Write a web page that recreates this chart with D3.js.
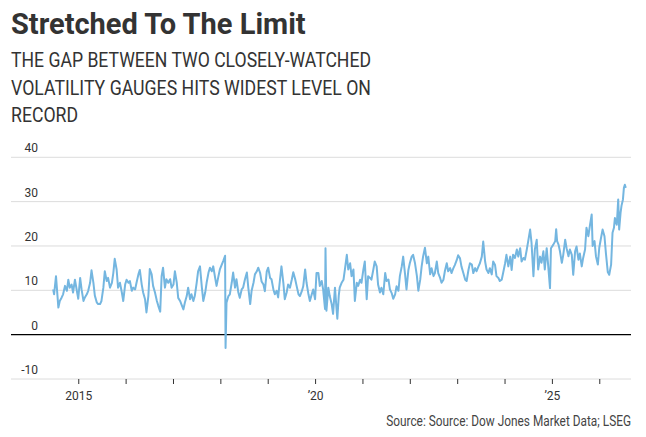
<!DOCTYPE html>
<html>
<head>
<meta charset="utf-8">
<script src="https://cdn.jsdelivr.net/npm/d3@7"></script>
<style>
  html, body { margin: 0; padding: 0; background: #fff; }
  svg { display: block; }
</style>
</head>
<body>
<div id="chart"></div>
<script>
// ── data (decimal year, gap in points) ──
var years = [
  2014.47, 2014.49, 2014.53, 2014.58, 2014.61, 2014.65, 2014.68, 2014.72, 2014.76, 2014.79,
  2014.82, 2014.86, 2014.89, 2014.93, 2014.97, 2015.00, 2015.04, 2015.07, 2015.11, 2015.14,
  2015.18, 2015.21, 2015.25, 2015.28, 2015.32, 2015.35, 2015.39, 2015.42, 2015.46, 2015.49,
  2015.53, 2015.56, 2015.60, 2015.63, 2015.67, 2015.71, 2015.74, 2015.77, 2015.81, 2015.84,
  2015.88, 2015.92, 2015.95, 2015.99, 2016.02, 2016.06, 2016.09, 2016.13, 2016.16, 2016.20,
  2016.23, 2016.27, 2016.30, 2016.34, 2016.37, 2016.41, 2016.44, 2016.48, 2016.51, 2016.55,
  2016.58, 2016.62, 2016.66, 2016.69, 2016.73, 2016.76, 2016.79, 2016.83, 2016.86, 2016.90,
  2016.94, 2016.97, 2017.01, 2017.04, 2017.08, 2017.11, 2017.15, 2017.18, 2017.22, 2017.25,
  2017.29, 2017.32, 2017.36, 2017.39, 2017.43, 2017.46, 2017.50, 2017.53, 2017.57, 2017.61,
  2017.64, 2017.68, 2017.71, 2017.75, 2017.78, 2017.82, 2017.85, 2017.89, 2017.92, 2017.96,
  2017.99, 2018.03, 2018.06, 2018.10, 2018.11, 2018.13, 2018.17, 2018.20, 2018.24, 2018.27,
  2018.31, 2018.34, 2018.38, 2018.41, 2018.45, 2018.48, 2018.52, 2018.56, 2018.59, 2018.63,
  2018.66, 2018.70, 2018.73, 2018.77, 2018.80, 2018.84, 2018.87, 2018.91, 2018.94, 2018.98,
  2019.01, 2019.05, 2019.08, 2019.12, 2019.15, 2019.19, 2019.22, 2019.26, 2019.29, 2019.33,
  2019.36, 2019.40, 2019.43, 2019.47, 2019.51, 2019.54, 2019.58, 2019.61, 2019.65, 2019.68,
  2019.72, 2019.75, 2019.79, 2019.82, 2019.86, 2019.89, 2019.93, 2019.96, 2020.00, 2020.03,
  2020.07, 2020.10, 2020.14, 2020.17, 2020.21, 2020.22, 2020.24, 2020.28, 2020.31, 2020.35,
  2020.38, 2020.42, 2020.45, 2020.47, 2020.50, 2020.52, 2020.56, 2020.60, 2020.63, 2020.67,
  2020.70, 2020.74, 2020.77, 2020.81, 2020.84, 2020.88, 2020.91, 2020.95, 2020.98, 2021.02,
  2021.05, 2021.09, 2021.12, 2021.16, 2021.19, 2021.23, 2021.26, 2021.30, 2021.33, 2021.37,
  2021.40, 2021.44, 2021.48, 2021.51, 2021.55, 2021.58, 2021.62, 2021.65, 2021.69, 2021.72,
  2021.76, 2021.79, 2021.83, 2021.86, 2021.90, 2021.93, 2021.97, 2022.00, 2022.04, 2022.07,
  2022.11, 2022.15, 2022.18, 2022.22, 2022.25, 2022.28, 2022.32, 2022.36, 2022.39, 2022.43,
  2022.46, 2022.50, 2022.53, 2022.57, 2022.60, 2022.64, 2022.67, 2022.71, 2022.74, 2022.78,
  2022.81, 2022.85, 2022.88, 2022.92, 2022.95, 2022.99, 2023.02, 2023.06, 2023.09, 2023.13,
  2023.17, 2023.20, 2023.24, 2023.27, 2023.31, 2023.34, 2023.38, 2023.41, 2023.45, 2023.48,
  2023.52, 2023.55, 2023.59, 2023.62, 2023.66, 2023.69, 2023.73, 2023.76, 2023.80, 2023.83,
  2023.87, 2023.90, 2023.94, 2023.97, 2024.01, 2024.04, 2024.08, 2024.12, 2024.15, 2024.18,
  2024.22, 2024.26, 2024.29, 2024.33, 2024.36, 2024.40, 2024.43, 2024.47, 2024.50, 2024.54,
  2024.57, 2024.61, 2024.64, 2024.68, 2024.71, 2024.75, 2024.78, 2024.82, 2024.85, 2024.89,
  2024.92, 2024.96, 2024.98, 2025.03, 2025.07, 2025.09, 2025.11, 2025.14, 2025.17, 2025.21,
  2025.24, 2025.28, 2025.31, 2025.35, 2025.38, 2025.42, 2025.45, 2025.49, 2025.52, 2025.56,
  2025.59, 2025.63, 2025.66, 2025.70, 2025.73, 2025.77, 2025.80, 2025.84, 2025.86, 2025.90,
  2025.93, 2025.97, 2026.00, 2026.03, 2026.07, 2026.11, 2026.14, 2026.18, 2026.21, 2026.25,
  2026.28, 2026.31, 2026.33, 2026.37, 2026.40, 2026.42, 2026.45, 2026.47, 2026.50, 2026.52,
  2026.54, 2026.56
];

var gap = [
  10.2, 9.1, 13.2, 6.1, 7.6, 8.4, 9.1, 11.0, 9.9, 12.4,
  10.6, 11.3, 9.5, 12.4, 9.9, 8.1, 12.8, 10.2, 7.6, 8.4,
  9.1, 9.9, 11.7, 14.5, 11.7, 8.8, 7.3, 6.9, 6.9, 7.6,
  10.6, 14.3, 12.1, 12.8, 10.6, 11.7, 13.9, 17.1, 14.7, 10.6,
  11.7, 9.5, 7.6, 11.3, 12.4, 11.7, 12.1, 9.9, 10.6, 10.2,
  11.7, 13.6, 14.6, 11.3, 9.5, 8.0, 5.0, 8.7, 14.8, 13.6,
  11.0, 9.5, 7.6, 6.5, 5.2, 13.2, 15.1, 10.6, 12.5, 11.7,
  12.5, 10.6, 11.3, 14.3, 11.7, 8.3, 7.6, 6.8, 5.7, 7.2,
  8.7, 10.6, 8.0, 9.1, 7.6, 8.7, 11.7, 14.3, 15.4, 10.6,
  7.6, 9.5, 11.7, 14.0, 15.1, 14.3, 15.4, 12.8, 11.0, 13.2,
  14.7, 15.8, 16.6, 17.8, -3.0, 7.2, 8.7, 9.1, 11.7, 14.0,
  10.6, 12.5, 9.5, 8.3, 10.2, 10.6, 12.5, 14.0, 10.6, 6.9,
  9.9, 11.7, 13.6, 14.3, 15.1, 13.9, 12.0, 11.3, 9.8, 14.3,
  15.1, 12.8, 12.5, 10.2, 9.1, 9.9, 8.4, 12.5, 15.4, 11.7,
  8.0, 9.5, 11.3, 10.6, 12.5, 14.1, 12.5, 11.0, 9.1, 8.7,
  9.8, 10.9, 14.7, 11.7, 9.1, 7.6, 9.1, 10.2, 8.0, 13.9,
  13.9, 11.0, 12.1, 10.2, 5.8, 19.5, 5.4, 10.6, 8.7, 6.9,
  4.7, 10.6, 6.2, 3.6, 8.8, 10.6, 11.7, 12.4, 14.7, 18.0,
  14.7, 16.1, 13.2, 14.7, 7.6, 11.7, 11.0, 12.4, 11.7, 14.7,
  16.5, 8.0, 13.2, 12.8, 12.4, 14.7, 16.5, 15.4, 11.3, 9.5,
  10.6, 9.1, 13.9, 12.1, 12.4, 10.2, 9.3, 8.1, 9.1, 10.9,
  9.9, 13.2, 15.4, 17.6, 13.6, 10.2, 14.6, 16.1, 17.6, 18.0,
  16.1, 13.2, 9.9, 12.4, 15.4, 17.6, 19.6, 16.1, 17.6, 13.6,
  15.0, 13.2, 13.9, 16.5, 13.9, 12.8, 11.7, 12.4, 14.3, 16.1,
  14.3, 15.0, 13.9, 15.0, 15.7, 16.8, 17.9, 17.2, 15.4, 13.9,
  12.4, 12.1, 14.7, 16.1, 15.8, 13.9, 15.0, 14.3, 15.4, 16.1,
  17.6, 21.0, 16.5, 14.7, 13.9, 15.0, 13.6, 16.5, 15.7, 13.2,
  12.8, 12.1, 12.4, 13.9, 16.0, 18.0, 15.4, 17.6, 14.6, 18.0,
  17.3, 19.2, 17.6, 19.5, 16.5, 17.3, 16.9, 19.2, 21.1, 23.7,
  20.7, 13.2, 19.2, 21.4, 14.7, 17.6, 16.2, 18.8, 14.7, 19.5,
  15.8, 10.5, 19.5, 20.3, 21.1, 23.8, 21.1, 20.3, 18.8, 16.2,
  18.0, 21.4, 19.5, 17.7, 19.2, 18.0, 13.5, 18.8, 19.9, 16.9,
  18.3, 15.4, 17.3, 19.2, 24.1, 22.2, 24.4, 27.1, 20.0, 21.1,
  17.7, 15.8, 19.6, 21.4, 23.7, 22.2, 18.4, 14.1, 13.5, 15.8,
  23.0, 24.1, 26.3, 24.8, 30.5, 23.7, 27.5, 29.1, 30.5, 33.1,
  33.8, 33.1
];

var yTicks = [-10, 0, 10, 20, 30, 40];
var xTickYears = [2015, 2016, 2017, 2018, 2019, 2020, 2021, 2022, 2023, 2024, 2025, 2026];
var xTickLabels = { 2015: "2015", 2020: "\u201920", 2025: "\u201925" };

var title = "Stretched To The Limit";
var subtitle = [
  "THE GAP BETWEEN TWO CLOSELY-WATCHED",
  "VOLATILITY GAUGES HITS WIDEST LEVEL ON",
  "RECORD"
];
var source = "Source: Source: Dow Jones Market Data; LSEG";

// ── layout ──
var W = 646, H = 437;
var font = "Roboto, 'Liberation Sans', sans-serif";

var svg = d3.select("#chart").append("svg")
  .attr("width", W)
  .attr("height", H);

// condensed look: squeeze the glyphs to the widths seen in the reference
function squeeze(sel, width) {
  sel.each(function() {
    var len = this.getComputedTextLength();
    if (len > width) {
      d3.select(this)
        .attr("textLength", width)
        .attr("lengthAdjust", "spacingAndGlyphs");
    }
  });
}

svg.append("text")
  .attr("x", 11).attr("y", 34)
  .attr("font-family", font)
  .attr("font-weight", "bold")
  .attr("font-size", 29)
  .attr("fill", "#333")
  .text(title)
  .call(squeeze, 296);

var subWidths = [360, 360, 67];
svg.selectAll("text.sub")
  .data(subtitle)
  .enter().append("text")
  .attr("class", "sub")
  .attr("x", 11)
  .attr("y", (d, i) => 67 + i * 27.7)
  .attr("font-family", font)
  .attr("font-size", 21)
  .attr("fill", "#333")
  .text(d => d)
  .each(function(d, i) { squeeze(d3.select(this), subWidths[i]); });

var x = d3.scaleLinear()
  .domain([2013.58, 2026.67])
  .range([11, 631]);

var y = d3.scaleLinear()
  .domain([-10, 40])
  .range([379, 157.3]);

// gridlines
svg.append("g")
  .selectAll("line")
  .data(yTicks)
  .enter().append("line")
  .attr("x1", 11).attr("x2", 631)
  .attr("y1", d => y(d)).attr("y2", d => y(d))
  .attr("stroke", d => d === 0 ? "#000" : "#dcdcdc")
  .attr("stroke-width", d => d === 0 ? 1.3 : 1);

// y labels
svg.append("g")
  .selectAll("text")
  .data(yTicks)
  .enter().append("text")
  .attr("x", 38)
  .attr("y", d => y(d) - 5)
  .attr("text-anchor", "end")
  .attr("font-family", font)
  .attr("font-size", 12)
  .attr("fill", "#333")
  .text(d => d);

// x axis ticks
var xAxis = d3.axisBottom(x)
  .tickValues(xTickYears)
  .tickSize(5)
  .tickPadding(7)
  .tickFormat(d => xTickLabels[d] || "");

var gx = svg.append("g")
  .attr("transform", "translate(0," + y(-10) + ")")
  .call(xAxis);
gx.select(".domain").remove();
gx.selectAll(".tick line").attr("stroke", "#333");
gx.selectAll(".tick text")
  .attr("font-family", font)
  .attr("font-size", 12)
  .attr("fill", "#333");

// the spread line
var pts = years.map((yr, i) => [yr, gap[i]]);
var line = d3.line()
  .x(d => x(d[0]))
  .y(d => y(d[1]));

svg.append("path")
  .datum(pts)
  .attr("d", line)
  .attr("fill", "none")
  .attr("stroke", "#74b6e0")
  .attr("stroke-width", 2)
  .attr("stroke-linejoin", "round");

// source line, scaled horizontally from its right edge
var srcG = svg.append("g");
var src = srcG.append("text")
  .attr("x", 0).attr("y", 0)
  .attr("text-anchor", "end")
  .attr("font-family", font)
  .attr("font-size", 14)
  .attr("fill", "#444")
  .text(source);
var srcScale = Math.min(1, 245 / src.node().getComputedTextLength());
srcG.attr("transform", "translate(631,426) scale(" + srcScale + ",1)");
</script>
</body>
</html>
